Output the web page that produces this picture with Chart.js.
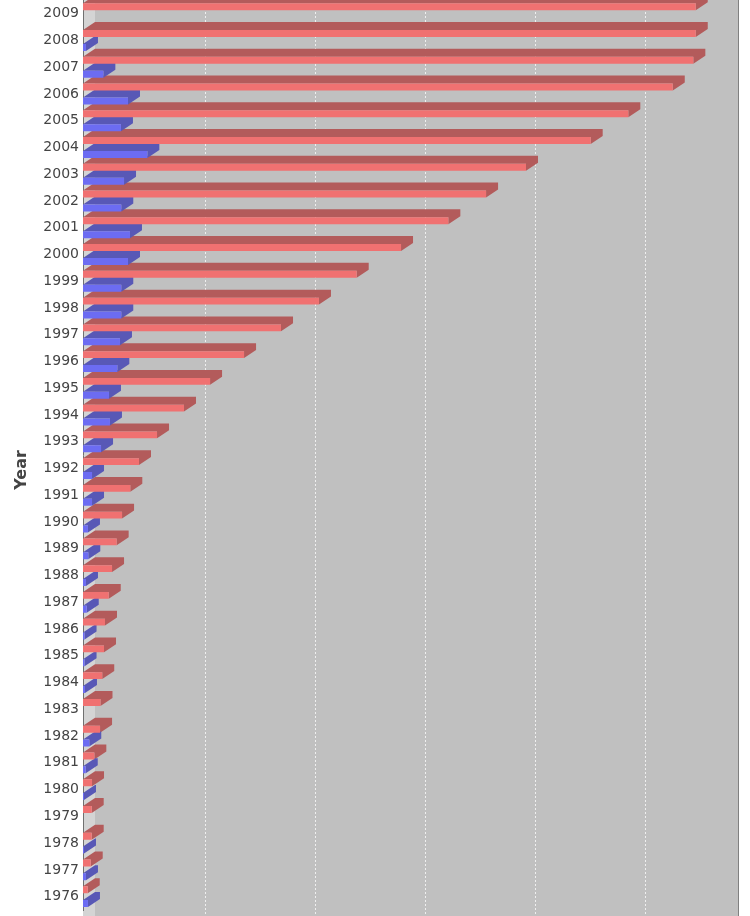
<!DOCTYPE html>
<html>
<head>
<meta charset="utf-8">
<script src="https://cdn.jsdelivr.net/npm/chart.js@4.4.0/dist/chart.umd.min.js"></script>
<style>
  html, body { margin: 0; padding: 0; background: #fff; overflow: hidden; }
  #wrap { position: absolute; left: 0; top: -12px; width: 750px; height: 940px; }
</style>
</head>
<body>
<div id="wrap"><canvas id="chart"></canvas></div>
<script>
// data, oldest year first
const years = [1976, 1977, 1978, 1979, 1980, 1981, 1982, 1983, 1984, 1985,
               1986, 1987, 1988, 1989, 1990, 1991, 1992, 1993, 1994, 1995,
               1996, 1997, 1998, 1999, 2000, 2001, 2002, 2003, 2004, 2005,
               2006, 2007, 2008, 2009];
const redValues = [43, 70, 79, 79, 82, 103, 155, 159, 175, 191,
                   200, 234, 264, 306, 355, 430, 509, 673, 918, 1155,
                   1464, 1800, 2145, 2488, 2891, 3321, 3664, 4027, 4615, 4957,
                   5361, 5548, 5570, 5570];
const blueValues = [45, 27, 9, 0, 9, 25, 57, 0, 18, 14,
                    14, 34, 27, 48, 45, 82, 82, 164, 245, 236,
                    312, 336, 348, 348, 409, 427, 348, 373, 585, 345,
                    409, 185, 27, 0];
const xTicks = [1000, 2000, 3000, 4000, 5000];
const xMax = 5845;

// 3D depth of the bars / walls
const DX = 12, DY = 8;

// newest year on top
const labels = years.slice().reverse().map(String);
const red = redValues.slice().reverse();
const blue = blueValues.slice().reverse();

const plot3d = {
  id: 'plot3d',
  beforeDraw(chart) {
    const { ctx, chartArea: a, scales: { x } } = chart;
    const h = chart.height;
    ctx.save();
    // back wall
    ctx.fillStyle = '#c0c0c0';
    ctx.fillRect(a.left + DX, 0, a.right - a.left, h);
    // left wall
    ctx.fillStyle = '#d4d4d4';
    ctx.fillRect(a.left, 0, DX, h);
    // gridlines on back wall
    ctx.strokeStyle = 'rgba(255,255,255,0.75)';
    ctx.lineWidth = 1;
    ctx.setLineDash([2, 2]);
    xTicks.forEach(t => {
      const px = Math.round(x.getPixelForValue(t) + DX) + 0.5;
      ctx.beginPath();
      ctx.moveTo(px, 0);
      ctx.lineTo(px, h);
      ctx.stroke();
    });
    ctx.setLineDash([]);
    // right edge of plot
    ctx.strokeStyle = '#808080';
    ctx.beginPath();
    ctx.moveTo(a.right + DX + 0.5, 0);
    ctx.lineTo(a.right + DX + 0.5, h);
    ctx.stroke();
    ctx.restore();
  },
  beforeDatasetsDraw(chart) {
    const ctx = chart.ctx;
    ctx.save();
    chart.data.datasets.forEach((ds, i) => {
      const meta = chart.getDatasetMeta(i);
      ctx.fillStyle = ds.sideColor;
      meta.data.forEach((bar, j) => {
        if (!ds.data[j]) return;
        const p = bar.getProps(['x', 'y', 'base', 'height'], true);
        const top = p.y - p.height / 2, bottom = p.y + p.height / 2;
        ctx.beginPath();
        ctx.moveTo(p.base, top);
        ctx.lineTo(p.base + DX, top - DY);
        ctx.lineTo(p.x + DX, top - DY);
        ctx.lineTo(p.x + DX, bottom - DY);
        ctx.lineTo(p.x, bottom);
        ctx.lineTo(p.x, top);
        ctx.closePath();
        ctx.fill();
      });
    });
    ctx.restore();
  },
  afterDraw(chart) {
    // axis title, placed where the original had it
    const ctx = chart.ctx;
    ctx.save();
    ctx.translate(22, 482);
    ctx.rotate(-Math.PI / 2);
    ctx.font = 'bold 16px "DejaVu Sans"';
    ctx.fillStyle = '#444444';
    ctx.textAlign = 'center';
    ctx.textBaseline = 'middle';
    ctx.fillText('Year', 0, 0);
    ctx.restore();
  }
};

new Chart(document.getElementById('chart'), {
  type: 'bar',
  data: {
    labels: labels,
    datasets: [
      { label: 'Series 1', data: red, backgroundColor: '#f07171', sideColor: '#b35b5b',
        borderWidth: 0, categoryPercentage: 1.04, barPercentage: 0.5 },
      { label: 'Series 2', data: blue, backgroundColor: '#6c6cf2', sideColor: '#5858b6',
        borderWidth: 0, categoryPercentage: 1.04, barPercentage: 0.5 }
    ]
  },
  options: {
    indexAxis: 'y',
    responsive: true,
    maintainAspectRatio: false,
    animation: false,
    layout: { padding: { left: 0, right: 24, top: 11, bottom: 18 } },
    plugins: { legend: { display: false }, tooltip: { enabled: false } },
    scales: {
      x: { display: false, min: 0, max: xMax },
      y: {
        afterFit: s => { s.width = 83; },
        grid: { display: false, drawTicks: false },
        border: { display: true, color: '#707070', width: 1 },
        ticks: {
          autoSkip: false,
          padding: 4,
          color: '#444444',
          font: { family: 'DejaVu Sans', size: 14 }
        }
      }
    }
  },
  plugins: [plot3d]
});
</script>
</body>
</html>
